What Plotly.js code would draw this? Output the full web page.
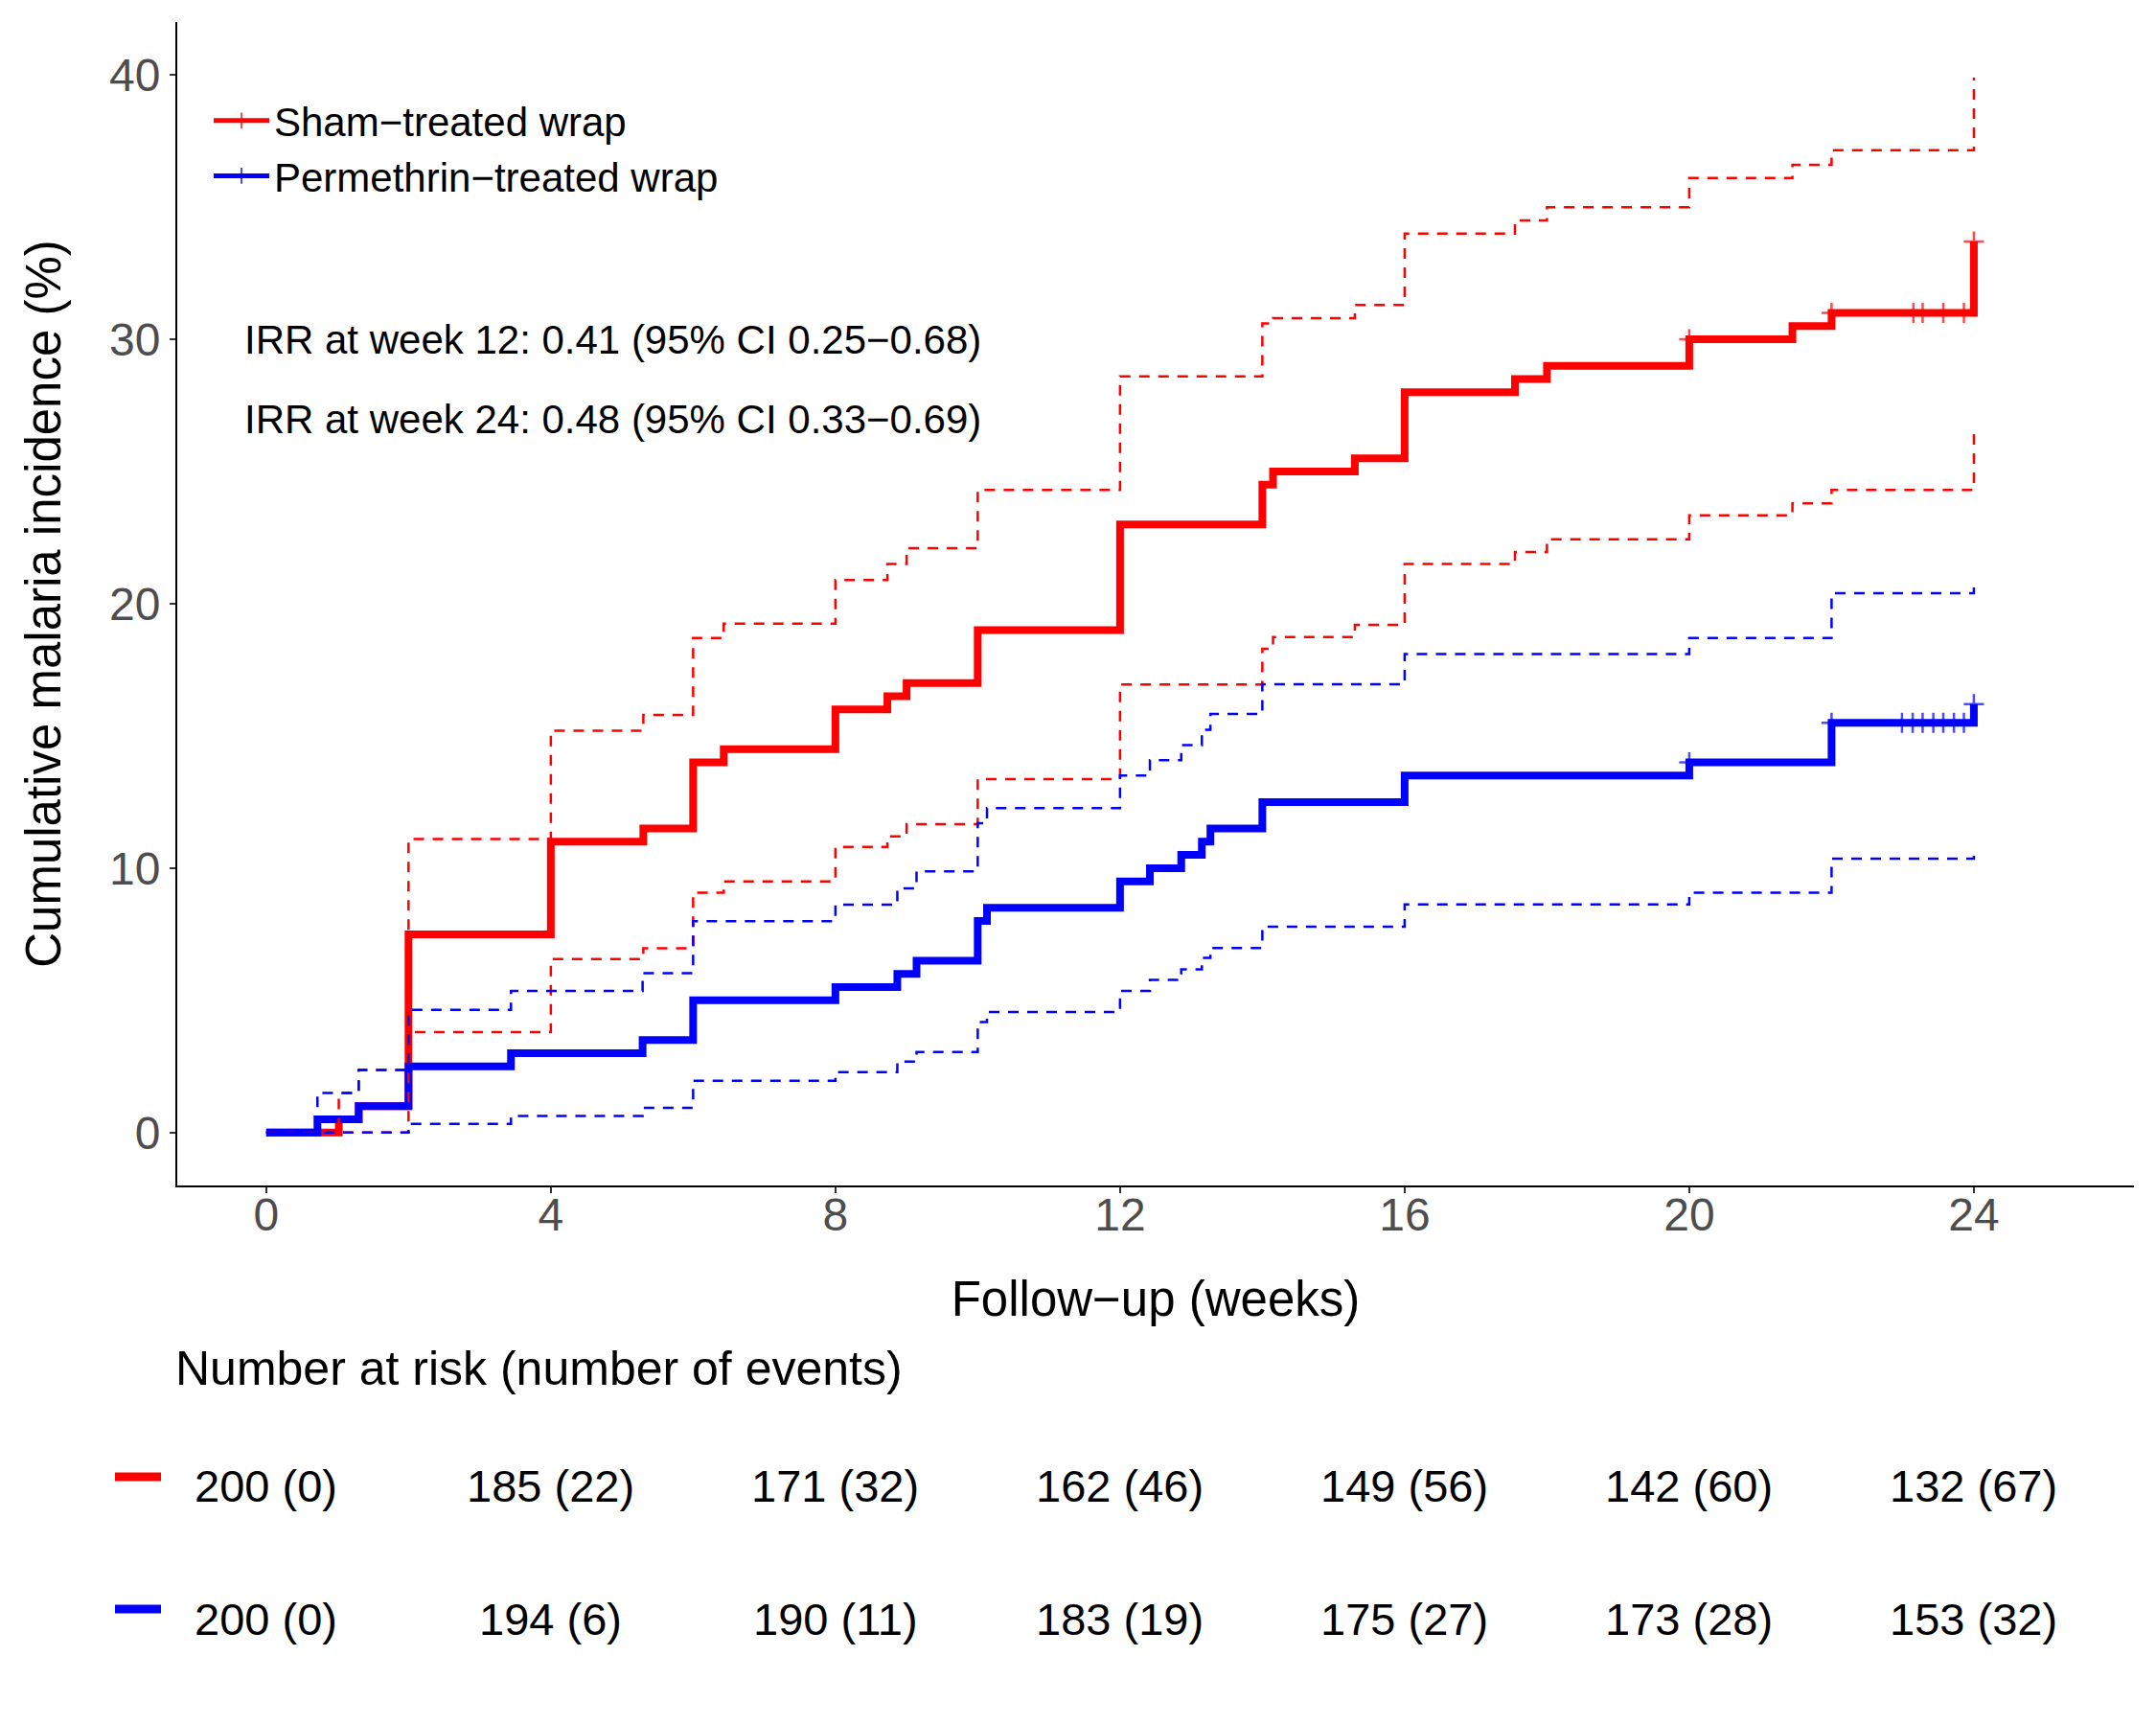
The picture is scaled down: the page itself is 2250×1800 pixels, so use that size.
<!DOCTYPE html>
<html>
<head>
<meta charset="utf-8">
<script src="https://cdn.plot.ly/plotly-3.0.1.min.js"></script>
<style>html,body{margin:0;padding:0;background:#fff;}#chart{width:2250px;height:1800px;}</style>
</head>
<body>
<div id="chart"></div>
<script>
// ---------------- data ----------------
const seriesNames = ["Sham\u2212treated wrap", "Permethrin\u2212treated wrap"];

const redTimes = [1.02, 1.3, 2.0, 4.0, 5.3, 6.0, 6.43, 8.0, 8.73, 9.0, 10.0, 12.0, 14.0, 14.15, 15.3, 16.0, 17.55, 18.0, 20.0, 21.45, 22.0, 24.0];
const redEst   = [0.5, 1.0, 7.5, 11.0, 11.5, 14.0, 14.5, 16.0, 16.5, 17.0, 19.0, 23.0, 24.5, 25.0, 25.5, 28.0, 28.5, 29.0, 30.0, 30.5, 31.0, 33.7];
const redUpper = [1.5, 2.37, 11.1, 15.2, 15.8, 18.7, 19.25, 20.9, 21.5, 22.1, 24.3, 28.6, 30.6, 30.8, 31.3, 34.0, 34.5, 35.0, 36.1, 36.6, 37.15, 39.9];
const redLower = [0.0, 0.0, 3.8, 6.56, 6.97, 9.07, 9.5, 10.8, 11.2, 11.66, 13.37, 16.95, 18.3, 18.74, 19.2, 21.5, 21.96, 22.44, 23.34, 23.8, 24.3, 26.6];
const redCensorTimes = [20.0, 22.0, 23.15, 23.28, 23.57, 23.86, 24.0];
const redCensorEst   = [30.0, 31.0, 31.0, 31.0, 31.0, 31.0, 33.7];

const blueTimes = [0.72, 1.3, 2.0, 3.44, 5.29, 6.0, 8.0, 8.87, 9.14, 10.0, 10.13, 12.0, 12.42, 12.86, 13.15, 13.27, 14.0, 16.0, 20.0, 22.0, 24.0];
const blueEst   = [0.5, 1.0, 2.5, 3.0, 3.5, 5.0, 5.5, 6.0, 6.5, 8.0, 8.5, 9.5, 10.0, 10.5, 11.0, 11.5, 12.5, 13.5, 14.0, 15.5, 16.2];
const blueUpper = [1.5, 2.37, 4.64, 5.36, 6.03, 7.99, 8.62, 9.24, 9.88, 11.7, 12.27, 13.5, 14.08, 14.65, 15.23, 15.83, 16.96, 18.1, 18.7, 20.4, 20.85];
const blueLower = [0.0, 0.0, 0.33, 0.63, 0.94, 1.96, 2.29, 2.68, 3.05, 4.18, 4.56, 5.36, 5.77, 6.17, 6.61, 6.98, 7.79, 8.63, 9.07, 10.36, 10.49];
const blueCensorTimes = [20.0, 22.0, 22.99, 23.14, 23.28, 23.43, 23.57, 23.72, 23.86, 24.0];
const blueCensorEst   = [14.0, 15.5, 15.5, 15.5, 15.5, 15.5, 15.5, 15.5, 15.5, 16.2];

const xTicks = [0, 4, 8, 12, 16, 20, 24];
const yTicks = [0, 10, 20, 30, 40];

const riskWeeks = [0, 4, 8, 12, 16, 20, 24];
const redAtRisk  = [200, 185, 171, 162, 149, 142, 132];
const redEvents  = [0, 22, 32, 46, 56, 60, 67];
const blueAtRisk = [200, 194, 190, 183, 175, 173, 153];
const blueEvents = [0, 6, 11, 19, 27, 28, 32];

const irrTexts = [
  "IRR at week 12: 0.41 (95% CI 0.25\u22120.68)",
  "IRR at week 24: 0.48 (95% CI 0.33\u22120.69)"
];

// ---------------- styling ----------------
const RED = "#FF0000", BLUE = "#0000FF";
const FONT = "Liberation Sans, Arial, Helvetica, sans-serif";
const M = {l: 185, r: 23, t: 23, b: 563};
const W = 2250, H = 1800;
const PW = W - M.l - M.r, PH = H - M.t - M.b;
const px2paperY = y => (H - M.b - y) / PH;
const px2paperX = x => (x - M.l) / PW;

function buildMain(times, est, cT, cE) {
  const pts = [{x: 0, y: 0, c: false}];
  times.forEach((t, i) => pts.push({x: t, y: est[i], c: false}));
  cT.forEach((t, j) => {
    const k = pts.findIndex(p => Math.abs(p.x - t) < 1e-9);
    if (k >= 0) pts[k].c = true; else pts.push({x: t, y: cE[j], c: true});
  });
  pts.sort((a, b) => a.x - b.x);
  return pts;
}

function mainTrace(name, color, times, est, cT, cE) {
  const pts = buildMain(times, est, cT, cE);
  return {
    type: "scatter", mode: "lines+markers", name: name,
    x: pts.map(p => p.x), y: pts.map(p => p.y),
    line: {shape: "hv", color: color, width: 8},
    marker: {symbol: "cross-thin", size: pts.map(p => p.c ? 15 : 0),
             color: color, line: {color: color, width: 2.5}},
    hoverinfo: "x+y"
  };
}
function ciTrace(color, times, vals) {
  return {
    type: "scatter", mode: "lines", showlegend: false,
    x: [0].concat(times), y: [0].concat(vals),
    line: {shape: "hv", color: color, width: 2.5, dash: "11px,9px"},
    hoverinfo: "x+y"
  };
}

const traces = [
  mainTrace(seriesNames[0], RED, redTimes, redEst, redCensorTimes, redCensorEst),
  mainTrace(seriesNames[1], BLUE, blueTimes, blueEst, blueCensorTimes, blueCensorEst),
  ciTrace(RED, redTimes, redLower),
  ciTrace(RED, redTimes, redUpper),
  ciTrace(BLUE, blueTimes, blueLower),
  ciTrace(BLUE, blueTimes, blueUpper)
];

const annotations = [];
irrTexts.forEach((t, i) => annotations.push({
  text: t, xref: "paper", yref: "paper", x: px2paperX(253), y: px2paperY([354, 437][i]),
  xanchor: "left", yanchor: "middle", showarrow: false,
  font: {family: FONT, size: 42, color: "#000"}
}));
annotations.push({
  text: "Number at risk (number of events)", xref: "paper", yref: "paper",
  x: px2paperX(181), y: px2paperY(1428), xanchor: "left", yanchor: "middle", showarrow: false,
  font: {family: FONT, size: 50, color: "#000"}
});
const rows = [[redAtRisk, redEvents, 1550], [blueAtRisk, blueEvents, 1689]];
rows.forEach(([n, e, ypx]) => {
  riskWeeks.forEach((w, i) => annotations.push({
    text: n[i] + " (" + e[i] + ")", xref: "x", yref: "paper", x: w, y: px2paperY(ypx),
    xanchor: "center", yanchor: "middle", showarrow: false,
    font: {family: FONT, size: 47, color: "#000"}
  }));
});

const shapes = [[RED, 1541], [BLUE, 1679]].map(([c, ypx]) => ({
  type: "line", xref: "paper", yref: "paper",
  x0: px2paperX(120), x1: px2paperX(168), y0: px2paperY(ypx), y1: px2paperY(ypx),
  line: {color: c, width: 9}
}));

const axisCommon = {
  showgrid: false, zeroline: false, showline: true, linecolor: "#000", linewidth: 2,
  ticks: "outside", ticklen: 6, tickwidth: 2, tickcolor: "#333333",
  tickfont: {family: FONT, size: 48, color: "#4D4D4D"}
};

const layout = {
  width: W, height: H, margin: M,
  paper_bgcolor: "#fff", plot_bgcolor: "#fff",
  font: {family: FONT, color: "#000"},
  xaxis: Object.assign({}, axisCommon, {
    range: [-1.25, 26.25], tickmode: "array", tickvals: xTicks, ticktext: xTicks.map(String),
    ticklabelstandoff: -19,
    title: {text: "Follow\u2212up (weeks)", font: {family: FONT, size: 51, color: "#000"}, standoff: 45}
  }),
  yaxis: Object.assign({}, axisCommon, {
    range: [-2, 42], tickmode: "array", tickvals: yTicks, ticktext: yTicks.map(String),
    title: {text: "Cumulative malaria incidence (%)", font: {family: FONT, size: 51, color: "#000"}, standoff: 34}
  }),
  showlegend: true,
  legend: {
    x: px2paperX(218), y: px2paperY(92), xanchor: "left", yanchor: "top",
    bgcolor: "rgba(0,0,0,0)", borderwidth: 0, itemsizing: "constant", itemwidth: 58,
    font: {family: FONT, size: 42, color: "#000"}
  },
  annotations: annotations,
  shapes: shapes
};

Plotly.newPlot("chart", traces, layout, {displayModeBar: false, staticPlot: true});
</script>
</body>
</html>
